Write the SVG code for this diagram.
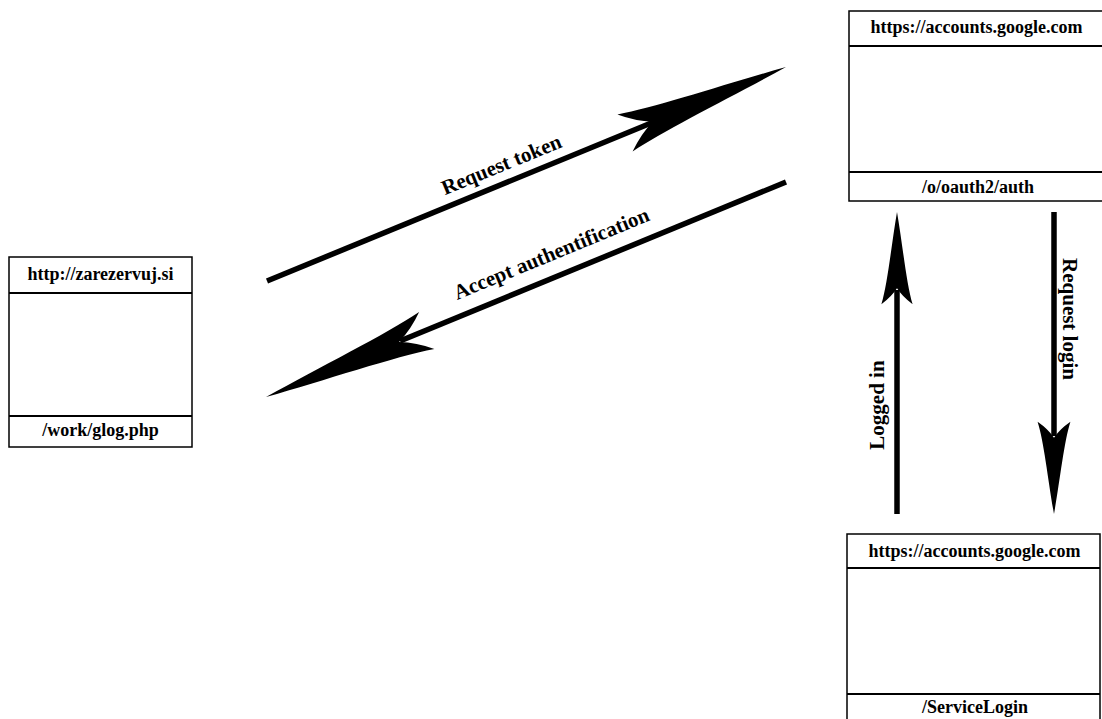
<svg xmlns="http://www.w3.org/2000/svg" width="1102" height="719" viewBox="0 0 1102 719">
  <style>
    .box { fill: #ffffff; stroke: #000000; stroke-width: 1.5; }
    .div { stroke: #000000; stroke-width: 2.2; }
    .title { font-family: "Liberation Serif", "Times New Roman", serif; font-weight: bold; font-size: 18px; fill: #000; text-anchor: middle; }
    .label { font-family: "Liberation Serif", "Times New Roman", serif; font-weight: bold; font-size: 21px; fill: #000; text-anchor: middle; }
    .shaft { stroke: #000000; stroke-width: 5.5; fill: none; }
    .head { fill: #000000; stroke: none; }
  </style>
  <defs>
    <path id="head" d="M0,0 C-60,-7 -135,-12 -174,-20 Q-160,-7 -144,0 Q-160,7 -174,20 C-135,12 -60,7 0,0 Z"/>
  </defs>
  <rect width="1102" height="719" fill="#ffffff"/>

  <g id="node-zarezervuj">
    <rect class="box" x="9" y="257" width="183" height="190"/>
    <line class="div" x1="9" y1="293" x2="192" y2="293"/>
    <line class="div" x1="9" y1="416" x2="192" y2="416"/>
    <text class="title" x="100.5" y="280">http://zarezervuj.si</text>
    <text class="title" x="100.5" y="436">/work/glog.php</text>
  </g>

  <g id="node-oauth">
    <rect class="box" x="849" y="11" width="258" height="190"/>
    <line class="div" x1="849" y1="46" x2="1107" y2="46"/>
    <line class="div" x1="849" y1="172" x2="1107" y2="172"/>
    <text class="title" x="976.5" y="33">https://accounts.google.com</text>
    <text class="title" x="978" y="193">/o/oauth2/auth</text>
  </g>

  <g id="node-servicelogin">
    <rect class="box" x="847" y="534" width="253" height="195"/>
    <line class="div" x1="847" y1="568" x2="1100" y2="568"/>
    <line class="div" x1="847" y1="694" x2="1100" y2="694"/>
    <text class="title" x="974.5" y="557">https://accounts.google.com</text>
    <text class="title" x="975" y="713">/ServiceLogin</text>
  </g>

  <g id="connectors">
    <g id="edge-request-token">
      <line class="shaft" x1="267" y1="281" x2="656" y2="121"/>
      <use href="#head" class="head" transform="translate(786,67) rotate(-22.3)"/>
      <text class="label" transform="translate(504,171) rotate(-22.3)">Request token</text>
    </g>
    <g id="edge-accept">
      <line class="shaft" x1="786" y1="182" x2="400" y2="341"/>
      <use href="#head" class="head" transform="translate(266,397) rotate(157.5)"/>
      <text class="label" transform="translate(554,260) rotate(-22.4)">Accept authentification</text>
    </g>
    <g id="edge-logged-in">
      <line class="shaft" x1="897" y1="514" x2="897" y2="290"/>
      <use href="#head" class="head" transform="translate(897,212) rotate(-90) scale(0.53,0.78)"/>
      <text class="label" transform="translate(884,405) rotate(-90)">Logged in</text>
    </g>
    <g id="edge-request-login">
      <line class="shaft" x1="1054" y1="212" x2="1054" y2="436"/>
      <use href="#head" class="head" transform="translate(1054,514) rotate(90) scale(0.53,0.82)"/>
      <text class="label" transform="translate(1063,319) rotate(90)">Request login</text>
    </g>
  </g>
</svg>
